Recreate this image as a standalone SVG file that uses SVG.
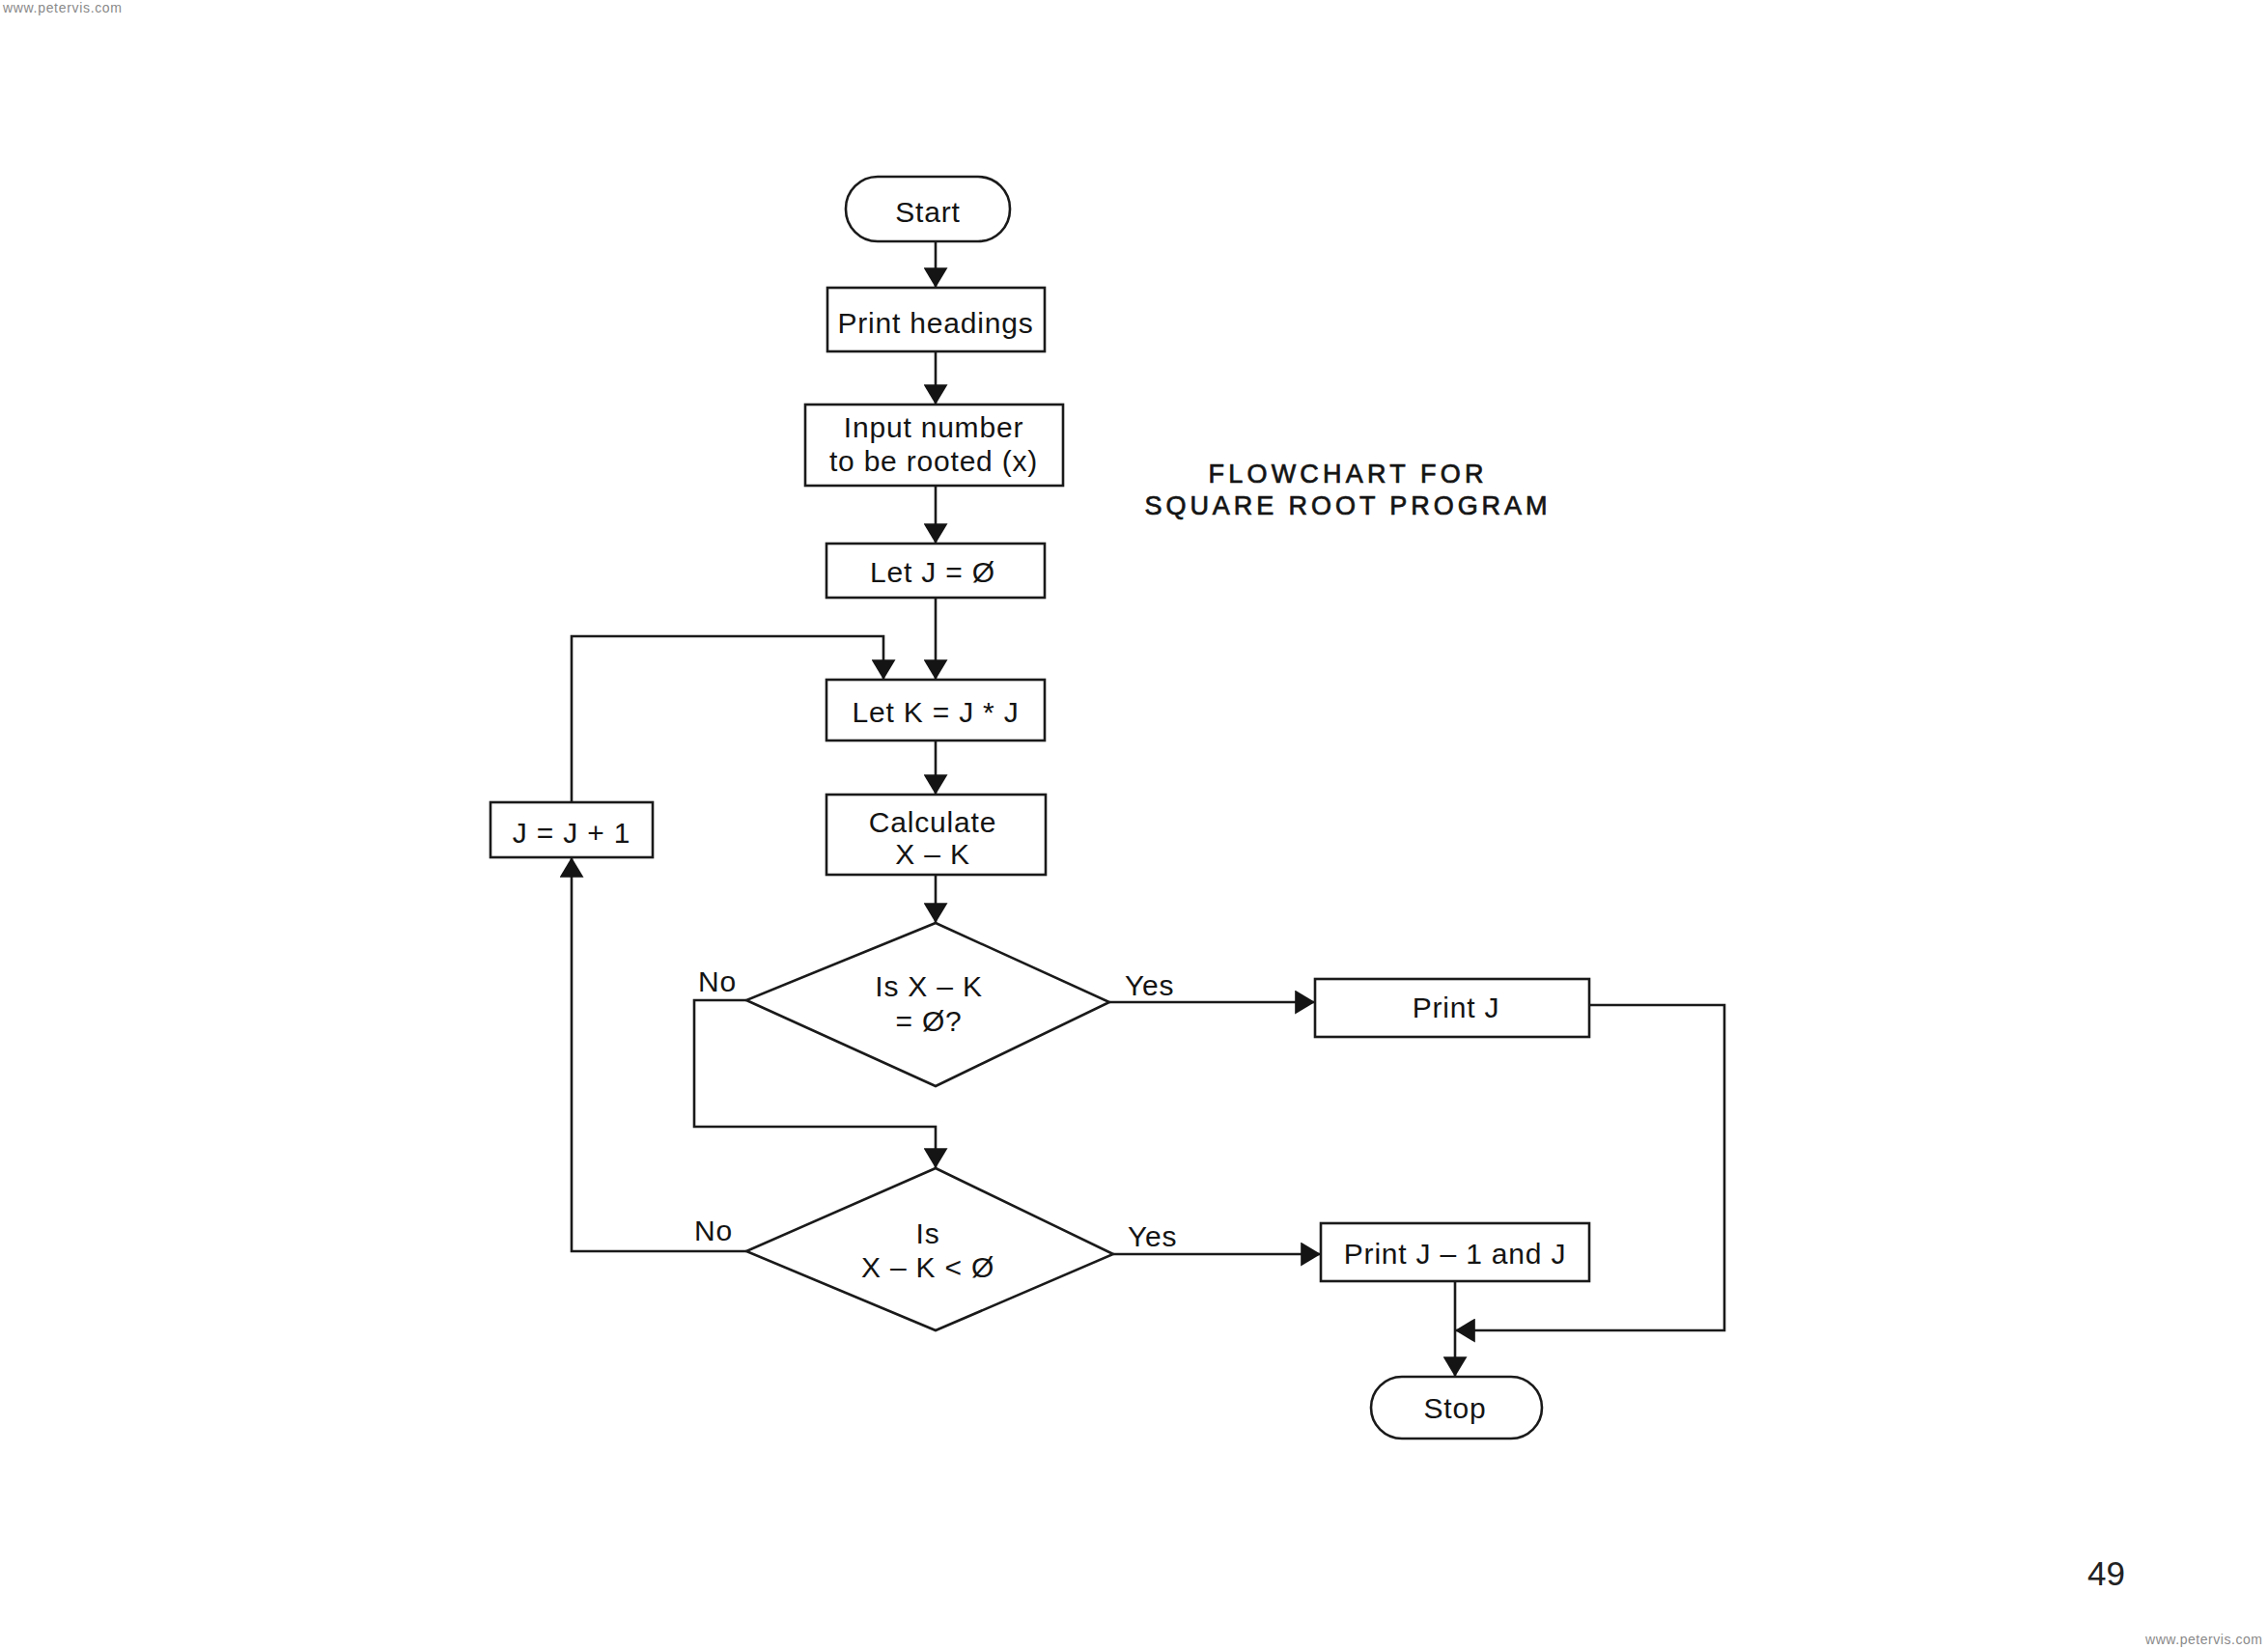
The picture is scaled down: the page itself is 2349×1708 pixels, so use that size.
<svg xmlns="http://www.w3.org/2000/svg" width="2349" height="1708" viewBox="0 0 2349 1708">
<style>
.box{fill:#fff;stroke:#1a1a1a;stroke-width:2.6}
.ln{fill:none;stroke:#1a1a1a;stroke-width:2.6}
.t{font-family:"Liberation Sans",Arial,sans-serif;font-size:30px;fill:#141414;text-anchor:middle;letter-spacing:0.8px}
.lbl{font-family:"Liberation Sans",Arial,sans-serif;font-size:30px;fill:#141414;letter-spacing:0.8px}
.title{font-family:"Liberation Sans",Arial,sans-serif;font-size:27px;fill:#141414;stroke:#141414;stroke-width:0.7;text-anchor:middle}
.wm{font-family:"Liberation Sans",Arial,sans-serif;font-size:14px;fill:#8a8a8a}
</style>
<defs>
<marker id="ah" markerUnits="userSpaceOnUse" viewBox="0 0 20 24" refX="20" refY="12" markerWidth="21" markerHeight="25" orient="auto">
<path d="M0,0 L20,12 L0,24 Z" fill="#141414"/>
</marker>
</defs>
<rect width="2349" height="1708" fill="#fff"/>
<text class="wm" x="3" y="13" textLength="123">www.petervis.com</text>
<text class="wm" x="2222" y="1703" textLength="121">www.petervis.com</text>
<text x="2201" y="1642" font-family="Liberation Sans,Arial,sans-serif" font-size="35" fill="#222" text-anchor="end">49</text>

<g id="title">
<text class="title" x="1394" y="500" textLength="285" lengthAdjust="spacing">FLOWCHART FOR</text>
<text class="title" x="1394" y="533" textLength="417" lengthAdjust="spacing">SQUARE ROOT PROGRAM</text>
</g>

<g id="connectors">
<path class="ln" d="M969,250 V298" marker-end="url(#ah)"/>
<path class="ln" d="M969,364 V419" marker-end="url(#ah)"/>
<path class="ln" d="M969,503 V563" marker-end="url(#ah)"/>
<path class="ln" d="M969,619 V704" marker-end="url(#ah)"/>
<path class="ln" d="M969,767 V823" marker-end="url(#ah)"/>
<path class="ln" d="M969,906 V956" marker-end="url(#ah)"/>
<path class="ln" d="M1149,1038 H1362" marker-end="url(#ah)"/>
<path class="ln" d="M773,1036 H719 V1167 H969 V1210" marker-end="url(#ah)"/>
<path class="ln" d="M1153,1299 H1368" marker-end="url(#ah)"/>
<path class="ln" d="M773,1296 H592 V888" marker-end="url(#ah)"/>
<path class="ln" d="M592,831 V659 H915 V704" marker-end="url(#ah)"/>
<path class="ln" d="M1646,1041 H1786 V1378 H1507" marker-end="url(#ah)"/>
<path class="ln" d="M1507,1327 V1426" marker-end="url(#ah)"/>
<text class="lbl" x="1165" y="1031">Yes</text>
<text class="lbl" x="723" y="1027">No</text>
<text class="lbl" x="1168" y="1291">Yes</text>
<text class="lbl" x="719" y="1285">No</text>
</g>

<g id="start">
<rect class="box" x="876" y="183" width="170" height="67" rx="33" ry="33"/>
<text class="t" x="961" y="230">Start</text>
</g>
<g id="print-headings">
<rect class="box" x="857" y="298" width="225" height="66"/>
<text class="t" x="969" y="345">Print headings</text>
</g>
<g id="input">
<rect class="box" x="834" y="419" width="267" height="84"/>
<text class="t" x="967" y="453">Input number</text>
<text class="t" x="967" y="488">to be rooted (x)</text>
</g>
<g id="let-j">
<rect class="box" x="856" y="563" width="226" height="56"/>
<text class="t" x="966" y="603">Let J = Ø</text>
</g>
<g id="let-k">
<rect class="box" x="856" y="704" width="226" height="63"/>
<text class="t" x="969" y="748">Let K = J * J</text>
</g>
<g id="calculate">
<rect class="box" x="856" y="823" width="227" height="83"/>
<text class="t" x="966" y="862">Calculate</text>
<text class="t" x="966" y="895">X – K</text>
</g>
<g id="j-inc">
<rect class="box" x="508" y="831" width="168" height="57"/>
<text class="t" x="592" y="873">J = J + 1</text>
</g>
<g id="decision1">
<polygon class="box" points="969,956 1149,1038 969,1125 773,1036"/>
<text class="t" x="962" y="1032">Is X – K</text>
<text class="t" x="962" y="1068">= Ø?</text>
</g>
<g id="decision2">
<polygon class="box" points="969,1210 1153,1299 969,1378 773,1296"/>
<text class="t" x="961" y="1288">Is</text>
<text class="t" x="961" y="1323">X – K &lt; Ø</text>
</g>
<g id="print-j">
<rect class="box" x="1362" y="1014" width="284" height="60"/>
<text class="t" x="1508" y="1054">Print J</text>
</g>
<g id="print-j1">
<rect class="box" x="1368" y="1267" width="278" height="60"/>
<text class="t" x="1507" y="1309">Print J – 1 and J</text>
</g>
<g id="stop">
<rect class="box" x="1420" y="1426" width="177" height="64" rx="32" ry="32"/>
<text class="t" x="1507" y="1469">Stop</text>
</g>
</svg>
